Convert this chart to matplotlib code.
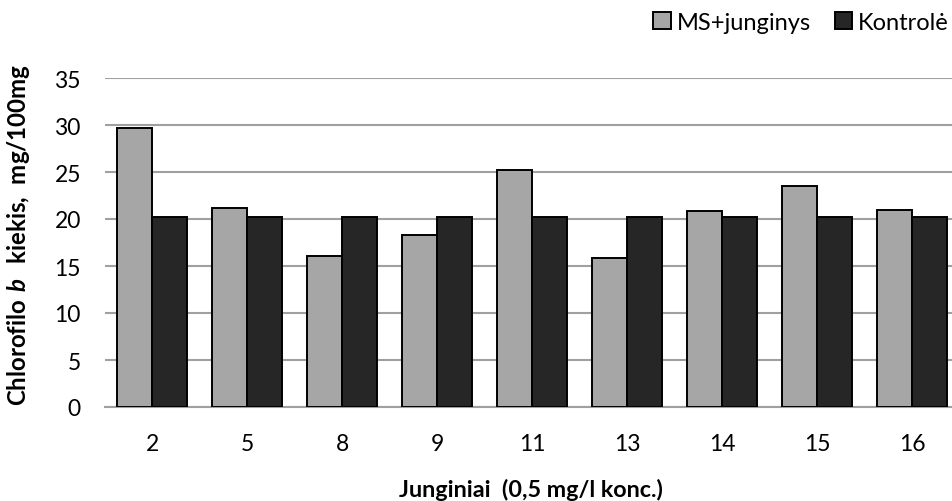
import matplotlib
matplotlib.use("Agg")
import matplotlib.pyplot as plt
import numpy as np

plt.rcParams['font.family'] = ['Lato', 'DejaVu Sans']
plt.rcParams['mathtext.fontset'] = 'custom'
plt.rcParams['mathtext.bfit'] = 'Lato:italic:bold'
plt.rcParams['mathtext.rm'] = 'Lato:bold'

categories = ["2", "5", "8", "9", "11", "13", "14", "15", "16"]
ms_junginys = [29.65, 21.2, 16.05, 18.35, 25.2, 15.8, 20.8, 23.5, 20.95]
kontrole = [20.25, 20.25, 20.25, 20.25, 20.25, 20.25, 20.25, 20.25, 20.25]
series_names = ["MS+junginys", "Kontrolė"]
y_ticks = [0, 5, 10, 15, 20, 25, 30, 35]

W, H = 952, 502
fig = plt.figure(figsize=(W / 100, H / 100), dpi=100)
# plot area continues past the right edge of the canvas
ax = fig.add_axes([104.5 / W, 1 - 408 / H, (960 - 104.5) / W, (408 - 79) / H])

x = np.arange(len(categories))
bw = 0.368
ax.bar(x - bw / 2, ms_junginys, bw, color="#a6a6a6", edgecolor="#000000",
       linewidth=1.4, label=series_names[0], zorder=3)
ax.bar(x + bw / 2, kontrole, bw, color="#262626", edgecolor="#000000",
       linewidth=1.4, label=series_names[1], zorder=3)

ax.set_xlim(-0.5, len(categories) - 0.5)
ax.set_ylim(0, 35)
ax.set_yticks(y_ticks)
ax.set_xticks(x)
ax.set_xticklabels(categories)
ax.yaxis.grid(True, color="#a0a0a0", linewidth=1.5, zorder=0)
ax.set_axisbelow(True)
for s in ["top", "right", "left"]:
    ax.spines[s].set_visible(False)
ax.spines["bottom"].set_color("#a0a0a0")
ax.spines["bottom"].set_linewidth(1.5)
ax.tick_params(axis="both", length=0, labelsize=16.5, colors="#000000")
ax.tick_params(axis="y", pad=17)
ax.tick_params(axis="x", pad=19)

fig.text(531 / W, 1 - 490 / H, "Junginiai  (0,5 mg/l konc.)", fontsize=16.8,
         fontweight="bold", ha="center", va="center")
fig.text(19 / W, 1 - 235 / H,
         r"$\mathrm{Chlorofilo}\ \mathbfit{b}\ \ \mathrm{kiekis,\ mg/100mg}$",
         rotation=90, fontsize=17.3, ha="center", va="center")

ax.legend(loc="center right", bbox_to_anchor=(949 / W, 1 - 23 / H),
          bbox_transform=fig.transFigure, ncol=2, frameon=False, fontsize=17,
          handlelength=0.75, handleheight=0.75, handletextpad=0.25,
          columnspacing=1.0, borderpad=0, borderaxespad=0)

fig.savefig("out.png", dpi=100)
